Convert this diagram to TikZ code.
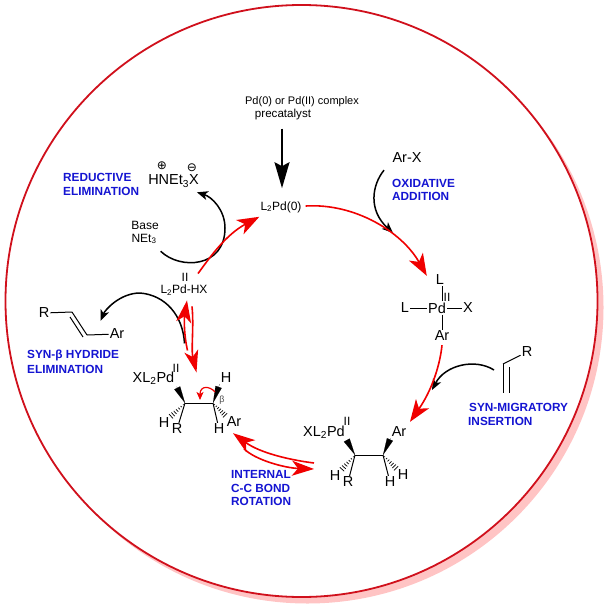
\documentclass[tikz,border=0pt]{standalone}
\usepackage{fontspec}
\setmainfont{Liberation Sans}
\newfontfamily\symfont{DejaVu Sans}
\definecolor{CycleRed}{HTML}{F00000}
\definecolor{RimRed}{HTML}{D0101C}
\definecolor{RimPink}{HTML}{FFC4C4}
\definecolor{StepBlue}{HTML}{1414D2}
\usetikzlibrary{arrows.meta,calc}
\tikzset{
  smalltxt/.style={inner sep=0pt, font=\fontsize{12}{14}\selectfont},
  largetxt/.style={inner sep=1pt, font=\fontsize{14.5}{16}\selectfont},
  steptxt/.style={inner sep=0pt, anchor=west, text=StepBlue, font=\fontsize{11.8}{14}\bfseries\selectfont},
  cyclearr/.style={-{Stealth[length=22pt,width=16pt,inset=6pt]}, line width=1.6pt, CycleRed},
  backarr/.style={-{Stealth[length=22pt,width=15pt,inset=6pt]}, line width=1.6pt, CycleRed},
  reagarr/.style={-{Stealth[length=11pt,width=9pt,inset=3pt]}, line width=1.5pt, black},
  bondl/.style={line width=1pt, black},
  wedgeb/.style={-{Triangle[length=17pt,width=6.5pt]}, line width=.1pt, black},
  hashl/.style={line width=.7pt, black}
}
\newcommand{\hashbond}[2]{%
  \foreach \s in {.12,.26,.4,.54,.68,.82,.96}
    \draw[hashl] ($(#1)!\s!(#2)!{\s*3pt}!90:(#2)$) -- ($(#1)!\s!(#2)!{-\s*3pt}!90:(#2)$);
}

\begin{document}
\begin{tikzpicture}[x=1pt, y=-1pt]
\useasboundingbox (0,0) rectangle (607,607);
\fill[RimPink] (307.5,307.5) circle[radius=296];
\draw[line width=1.8pt, RimRed, fill=white] (301.5,301) circle[radius=296];

% labels at the top of the cycle
\node[smalltxt, font=\fontsize{11}{14}\selectfont] (precata) at (302,102) {Pd(0) or Pd(II) complex};
\node[smalltxt, font=\fontsize{11.6}{14}\selectfont] (precatb) at (283,115) {precatalyst};
\node[smalltxt] (pdzero) at (281,207) {L\textsubscript{2}Pd(0)};
\node[largetxt] (salt) at (173.5,181) {HNEt\textsubscript{3}X};
\node[inner sep=0pt, font=\symfont\fontsize{12}{14}\selectfont] (plus) at (162,166) {⊕};
\node[inner sep=0pt, font=\symfont\fontsize{12}{14}\selectfont] (minus) at (192,168) {⊖};
\node[smalltxt] (basea) at (145,225) {Base};
\node[smalltxt] (baseb) at (144,239) {NEt\textsubscript{3}};
\node[smalltxt] (pdhxii) at (185,277) {II};
\node[smalltxt] (pdhx) at (184,290) {L\textsubscript{2}Pd-HX};
\node[largetxt] (arx) at (407,158) {Ar-X};

% step names
\node[steptxt] (reda) at (63,177) {REDUCTIVE};
\node[steptxt] (redb) at (63,191) {ELIMINATION};
\node[steptxt] (oxa) at (392,183) {OXIDATIVE};
\node[steptxt] (oxb) at (392,196) {ADDITION};
\node[steptxt] (miga) at (469,407) {SYN-MIGRATORY};
\node[steptxt] (migb) at (468,421) {INSERTION};
\node[steptxt] (rota) at (231,474) {INTERNAL};
\node[steptxt] (rotb) at (231,488) {C-C BOND};
\node[steptxt] (rotc) at (231,501) {ROTATION};
\node[steptxt] (elima) at (27,355) {SYN-β HYDRIDE};
\node[steptxt] (elimb) at (27,369) {ELIMINATION};

% square planar Pd
\node[largetxt] (pdc) at (437,308) {Pd};
\node[smalltxt] (pdcii) at (447,297) {II};
\node[largetxt] (ltop) at (440,280) {L};
\node[largetxt] (lleft) at (405,308) {L};
\node[largetxt] (xright) at (468,308) {X};
\node[largetxt] (arbot) at (442,336) {Ar};
\draw[bondl] ([xshift=5]pdc.north) -- ([xshift=2]ltop.south);
\draw[bondl] (pdc) -- (lleft);
\draw[bondl] (pdc) -- (xright);
\draw[bondl] ([xshift=5]pdc.south) -- (arbot);

% alkene on the right
\node[largetxt] (rnew) at (527,352) {R};
\coordinate (ena) at (503,364);
\coordinate (enb) at (503,393);
\coordinate (enc) at (509,367);
\coordinate (end) at (509,393);
\draw[bondl] (ena) -- (rnew);
\draw[bondl] (ena) -- (enb);
\draw[bondl] (enc) -- (end);

% lower alkyl Pd
\coordinate (cla) at (355,455);
\coordinate (clb) at (383,455);
\node[largetxt] (xlpdl) at (324,432) {XL\textsubscript{2}Pd};
\node[smalltxt] (xlpdlii) at (347,421) {II};
\node[largetxt] (arl) at (399,432) {Ar};
\node[largetxt] (hla) at (335,476) {H};
\node[largetxt] (rl) at (348,482) {R};
\node[largetxt] (hlb) at (390,482) {H};
\node[largetxt] (hlc) at (403,475) {H};
\draw[bondl] (cla) -- (clb);
\draw[wedgeb] ([shift={(1,1)}]xlpdl.south east) -- (cla);
\draw[wedgeb] (arl.south west) -- (clb);
\draw[bondl] (cla) -- (rl);
\draw[bondl] (clb) -- (hlb);
\hashbond{cla}{hla.north east}
\hashbond{clb}{hlc.north west}

% upper alkyl Pd
\coordinate (cua) at (185,403);
\coordinate (cub) at (213,403);
\node[largetxt] (xlpdu) at (153.5,378) {XL\textsubscript{2}Pd};
\node[smalltxt] (xlpduii) at (176,368) {II};
\node[largetxt] (huc) at (226,378) {H};
\node[largetxt] (hua) at (164,423) {H};
\node[largetxt] (ru) at (177,429) {R};
\node[largetxt] (hub) at (219,429) {H};
\node[largetxt] (aru) at (234,422) {Ar};
\node[inner sep=0pt, font=\fontsize{9}{10}\selectfont, text=black!70] (betau) at (222,400) {β};
\draw[bondl] (cua) -- (cub);
\draw[wedgeb] ([shift={(1,1)}]xlpdu.south east) -- (cua);
\draw[wedgeb] (huc.south west) -- (cub);
\draw[bondl] (cua) -- (ru);
\draw[bondl] (cub) -- (hub);
\hashbond{cua}{hua.north east}
\hashbond{cub}{aru.north west}

% product alkene
\node[largetxt] (rprod) at (44,313) {R};
\node[largetxt] (arprod) at (117,334) {Ar};
\coordinate (pra) at (72,312);
\coordinate (prb) at (87,335);
\coordinate (prc) at (70,317);
\coordinate (prd) at (83,337);
\draw[bondl] (rprod) -- (pra);
\draw[bondl] (pra) -- (prb);
\draw[bondl] (prc) -- (prd);
\draw[bondl] (prb) -- (arprod);

% black arrows
\draw[-{Stealth[length=26pt,width=15pt,inset=4pt]}, line width=1.8pt] ([shift={(-1,8)}]precatb.south) -- ([shift={(1,-13)}]pdzero.north);
\draw[reagarr] ([shift={(4,7)}]baseb.south east) .. controls (180,270) and (225,268) .. (225,228) .. controls (225,210) and (212,197) .. ([shift={(-3,4)}]salt.south east);
\draw[reagarr] ([shift={(-23,6)}]arx.south) .. controls (372,185) and (368,210) .. (393,233);
\draw[reagarr] ([shift={(-9,-23)}]enb) .. controls (475,358) and (445,365) .. (432,390);
\draw[reagarr] ([shift={(9,-27)}]xlpdu.north east) .. controls (183,315) and (165,295) .. (140,293) .. controls (120,293) and (105,310) .. ([shift={(-8,-7)}]arprod.north west);

% red arrows of the cycle
\draw[cyclearr] ([shift={(14,-11)}]pdhx.north) .. controls (208,260) and (225,235) .. ([shift={(-1,4)}]pdzero.south west);
\draw[cyclearr] ([shift={(4,-1)}]pdzero.east) .. controls (355,203) and (402,232) .. ([shift={(-8,2)}]ltop.north west);
\draw[cyclearr] ([shift={(0,3)}]arbot.south) .. controls (440,365) and (432,390) .. ([shift={(11,-4)}]arl.north);
\draw[backarr] ([shift={(12,31)}]xlpdl.west) .. controls (290,460) and (260,453) .. ([shift={(-1,5)}]aru.south);
\draw[backarr] ([shift={(-17,-21)}]rota.north) .. controls (255,460) and (285,468) .. ([shift={(12,37)}]xlpdl.west);
\draw[backarr] ([shift={(12,-20)}]xlpdu.north east) .. controls (184,335) and (184,320) .. ([shift={(3,5)}]pdhx.south);
\draw[backarr, -{Stealth[length=22pt,width=14pt,inset=6pt]}] ([shift={(8,11)}]pdhx.south) .. controls (194,325) and (191,350) .. ([shift={(21,2)}]xlpdu.north east);
\draw[CycleRed, line width=1.2pt, -{Stealth[length=8pt,width=7pt,inset=2pt]}] (215,392) .. controls (210,386) and (200,385) .. (200,400);
\end{tikzpicture}
\end{document}
